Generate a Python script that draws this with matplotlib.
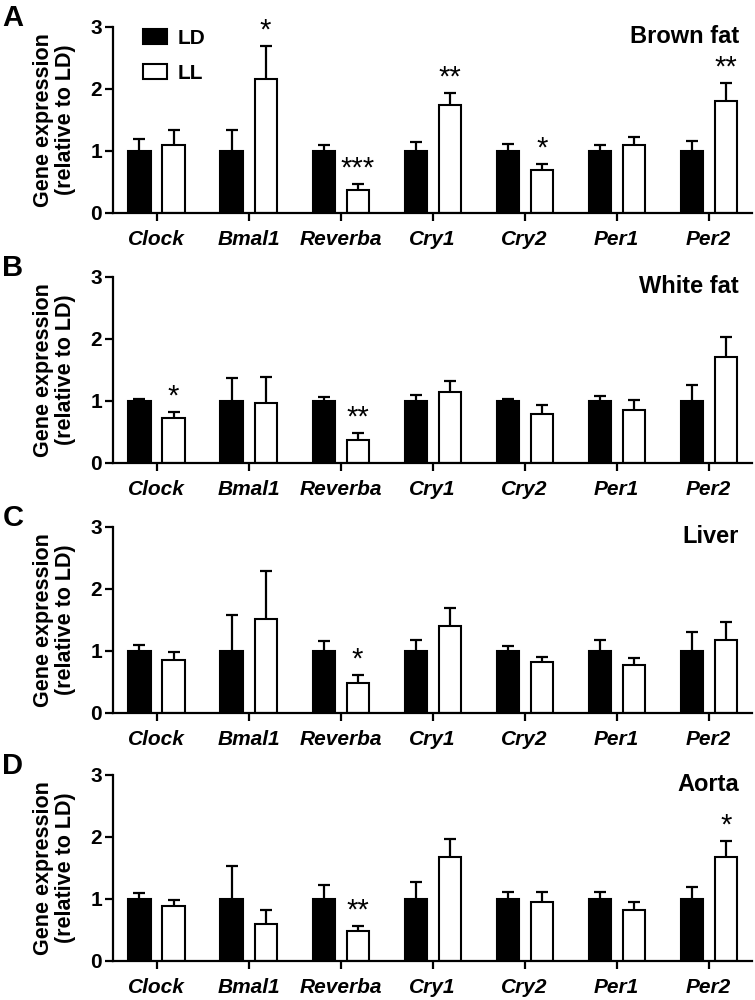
import matplotlib
matplotlib.use('Agg')
import matplotlib.pyplot as plt
from matplotlib.patches import Patch
import numpy as np

plt.rcParams['font.family'] = ['Liberation Sans', 'DejaVu Sans']
plt.rcParams['font.weight'] = 'bold'

genes = ['Clock', 'Bmal1', 'Reverba', 'Cry1', 'Cry2', 'Per1', 'Per2']
tissues = ['Brown fat', 'White fat', 'Liver', 'Aorta']
letters = ['A', 'B', 'C', 'D']

ld_mean = [1, 1, 1, 1, 1, 1, 1]

bat_ld_sem = [0.20, 0.34, 0.09, 0.14, 0.12, 0.10, 0.16]
bat_ll_mean = [1.09, 2.16, 0.37, 1.74, 0.69, 1.09, 1.80]
bat_ll_sem = [0.25, 0.53, 0.10, 0.20, 0.10, 0.14, 0.30]
bat_stars = ['', '*', '***', '**', '*', '', '**']

wat_ld_sem = [0.04, 0.37, 0.07, 0.10, 0.03, 0.08, 0.25]
wat_ll_mean = [0.72, 0.96, 0.37, 1.15, 0.79, 0.86, 1.71]
wat_ll_sem = [0.10, 0.42, 0.12, 0.17, 0.15, 0.16, 0.32]
wat_stars = ['*', '', '**', '', '', '', '']

liv_ld_sem = [0.10, 0.58, 0.16, 0.17, 0.08, 0.17, 0.31]
liv_ll_mean = [0.85, 1.52, 0.49, 1.41, 0.83, 0.78, 1.17]
liv_ll_sem = [0.14, 0.77, 0.12, 0.29, 0.08, 0.11, 0.29]
liv_stars = ['', '', '*', '', '', '', '']

aor_ld_sem = [0.10, 0.53, 0.22, 0.28, 0.11, 0.11, 0.20]
aor_ll_mean = [0.89, 0.59, 0.48, 1.67, 0.95, 0.83, 1.68]
aor_ll_sem = [0.09, 0.23, 0.09, 0.30, 0.16, 0.12, 0.26]
aor_stars = ['', '', '**', '', '', '', '*']

panels = [
    (bat_ld_sem, bat_ll_mean, bat_ll_sem, bat_stars),
    (wat_ld_sem, wat_ll_mean, wat_ll_sem, wat_stars),
    (liv_ld_sem, liv_ll_mean, liv_ll_sem, liv_stars),
    (aor_ld_sem, aor_ll_mean, aor_ll_sem, aor_stars),
]

fig = plt.figure(figsize=(7.55, 10.0), dpi=100)
bottoms = [0.787, 0.537, 0.287, 0.039]
x = np.arange(len(genes))
w = 0.24
off = 0.185

for i, (ld_sem, ll_mean, ll_sem, stars) in enumerate(panels):
    ax = fig.add_axes([0.150, bottoms[i], 0.846, 0.186])
    ax.errorbar(x - off, ld_mean, yerr=ld_sem, fmt='none', ecolor='black',
                elinewidth=1.6, capsize=4, capthick=1.6, zorder=1)
    ax.errorbar(x + off, ll_mean, yerr=ll_sem, fmt='none', ecolor='black',
                elinewidth=1.6, capsize=4, capthick=1.6, zorder=1)
    ax.bar(x - off, ld_mean, width=w, color='black', edgecolor='black',
           linewidth=1.5, zorder=2, label='LD')
    ax.bar(x + off, ll_mean, width=w, color='white', edgecolor='black',
           linewidth=1.5, zorder=2, label='LL')
    for xi, m, s, st in zip(x, ll_mean, ll_sem, stars):
        if st:
            ax.text(xi + off, m + s + 0.02, st, ha='center', va='bottom',
                    fontsize=21, fontweight='normal')
    ax.set_xlim(-0.47, 6.47)
    ax.set_ylim(0, 3)
    ax.set_yticks([0, 1, 2, 3])
    ax.set_xticks(x)
    ax.set_xticklabels(genes, fontsize=15, fontstyle='italic', fontweight='bold')
    for lab in ax.get_yticklabels():
        lab.set_fontsize(15)
        lab.set_fontweight('bold')
    ax.tick_params(axis='both', direction='out', length=6, width=1.6, pad=2)
    ax.tick_params(axis='x', pad=6)
    for sp in ['top', 'right']:
        ax.spines[sp].set_visible(False)
    for sp in ['left', 'bottom']:
        ax.spines[sp].set_linewidth(1.6)
    ax.set_ylabel('Gene expression\n(relative to LD)', fontsize=15.5,
                  fontweight='bold', labelpad=10, linespacing=1.1)
    ax.text(0.98, 0.95, tissues[i], transform=ax.transAxes, ha='right',
            va='center', fontsize=17, fontweight='bold')
    fig.text(0.003, bottoms[i] + 0.186 + 0.009, letters[i], fontsize=21,
             fontweight='bold', ha='left', va='center')
    if i == 0:
        handles = [Patch(facecolor='black', edgecolor='black', linewidth=1.5, label='LD'),
                   Patch(facecolor='white', edgecolor='black', linewidth=1.5, label='LL')]
        ax.legend(handles=handles, loc='upper left', bbox_to_anchor=(0.018, 1.09),
                  frameon=False, handlelength=1.15, handleheight=0.7,
                  handletextpad=0.5, labelspacing=0.75, prop={'weight': 'bold', 'size': 15})

fig.savefig('out.png', dpi=100)
